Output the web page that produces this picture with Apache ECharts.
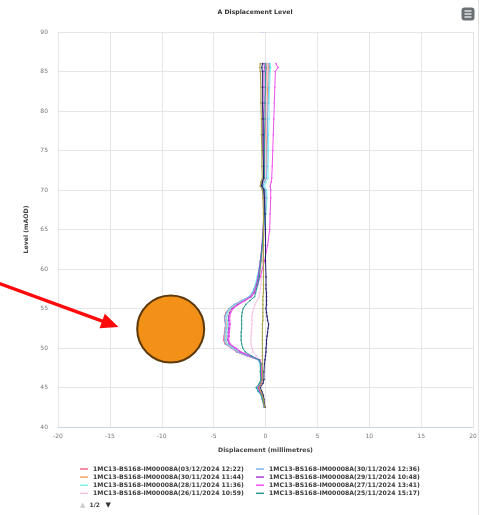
<!DOCTYPE html>
<html>
<head>
<meta charset="utf-8">
<script src="https://cdn.jsdelivr.net/npm/echarts@6/dist/echarts.min.js"></script>
<style>
  html, body { margin: 0; padding: 0; background: #ffffff; }
  #chart { width: 486px; height: 515px; }
</style>
</head>
<body>
<div id="chart"></div>
<script>
// Inclinometer profile: displacement (mm) against level (mAOD)
var levels = [86, 85.5, 85, 83, 81, 79, 77, 75, 73, 71.5, 71, 70.5, 70, 69, 67, 65, 63, 61, 59, 58,
  57.5, 57, 56.5, 56, 55.5, 55, 54.5, 54, 53.5, 53, 52.5, 52, 51.5, 51, 50.5, 50, 49.5, 49, 48.5, 48,
  47, 46, 45.5, 45, 44.5, 44, 43.5, 43, 42.5];

var seriesNames = [
  '1MC13-BS168-IM00008A(03/12/2024 12:22)',
  '1MC13-BS168-IM00008A(30/11/2024 11:44)',
  '1MC13-BS168-IM00008A(28/11/2024 11:36)',
  '1MC13-BS168-IM00008A(26/11/2024 10:59)',
  '1MC13-BS168-IM00008A(30/11/2024 12:36)',
  '1MC13-BS168-IM00008A(29/11/2024 10:48)',
  '1MC13-BS168-IM00008A(27/11/2024 13:41)',
  '1MC13-BS168-IM00008A(25/11/2024 15:17)',
  '1MC13-BS168-IM00008A(22/11/2024 14:05)',
  '1MC13-BS168-IM00008A(20/11/2024 11:30)'
];

var seriesColors = ['#f2678a', '#f7a35c', '#7ff2f2', '#f7c4e0', '#7cb5ec',
  '#a83fd6', '#f050f0', '#2b9a96', '#22226e', '#a8a040'];

var disp0312 = [0.1, 0.15, 0.1, 0.05, 0.05, 0.0, 0.0, -0.05, -0.05,
  -0.05, -0.25, -0.35, -0.1,
  0.0, -0.05, -0.15, -0.3, -0.45, -0.7, -0.9,
  -1.05, -1.2, -1.5, -2.3, -3.0, -3.5, -3.8, -3.95, -3.95, -3.85, -3.9, -3.95, -4.0, -4.05, -3.9, -3.3, -2.8, -1.8, -0.7, -0.5,
  -0.45, -0.4, -0.5, -0.75, -0.6, -0.35, -0.3, -0.2, -0.1];

var disp3011a = [0.25, 0.3, 0.25, 0.2, 0.15, 0.15, 0.1, 0.1, 0.05,
  0.05, -0.15, -0.3, -0.05,
  0.05, 0.0, -0.1, -0.25, -0.4, -0.6, -0.8,
  -0.95, -1.1, -1.4, -2.1, -2.8, -3.3, -3.6, -3.75, -3.75, -3.7, -3.75, -3.8, -3.8, -3.85, -3.7, -3.15, -2.6, -1.6, -0.65, -0.45,
  -0.4, -0.35, -0.45, -0.7, -0.55, -0.3, -0.25, -0.15, -0.1];

var disp2811 = [0.45, 0.5, 0.45, 0.4, 0.35, 0.35, 0.3, 0.3, 0.25,
  0.25, 0.05, -0.15, 0.1,
  0.15, 0.05, -0.1, -0.3, -0.5, -0.8, -1.0,
  -1.15, -1.3, -1.6, -2.2, -2.9, -3.4, -3.65, -3.75, -3.7, -3.65, -3.7, -3.75, -3.75, -3.8, -3.65, -3.1, -2.5, -1.5, -0.7, -0.55,
  -0.5, -0.45, -0.6, -0.85, -0.7, -0.4, -0.3, -0.2, -0.1];

var disp2611 = [0.15, 0.2, 0.15, 0.1, 0.1, 0.05, 0.05, 0.0, 0.0,
  0.0, -0.2, -0.3, -0.05,
  0.0, -0.05, -0.1, -0.2, -0.3, -0.4, -0.45,
  -0.5, -0.55, -0.6, -0.8, -1.0, -1.15, -1.25, -1.3, -1.3, -1.3, -1.35, -1.35, -1.4, -1.4, -1.4, -1.3, -1.2, -0.9, -0.5, -0.4,
  -0.35, -0.3, -0.4, -0.6, -0.5, -0.3, -0.25, -0.15, -0.1];

var disp3011b = [0.35, 0.4, 0.35, 0.3, 0.25, 0.2, 0.2, 0.15, 0.15,
  0.1, -0.1, -0.25, 0.0,
  0.05, 0.0, -0.15, -0.3, -0.5, -0.75, -0.95,
  -1.1, -1.25, -1.55, -2.3, -3.0, -3.5, -3.75, -3.9, -3.9, -3.85, -3.85, -3.9, -3.95, -3.95, -3.85, -3.25, -2.75, -1.75, -0.7, -0.5,
  -0.45, -0.4, -0.55, -0.8, -0.65, -0.35, -0.3, -0.2, -0.1];

var disp2911 = [-0.15, -0.1, -0.15, -0.15, -0.15, -0.2, -0.2, -0.2, -0.2,
  -0.2, -0.35, -0.4, -0.2,
  -0.15, -0.15, -0.25, -0.35, -0.5, -0.7, -0.85,
  -0.95, -1.1, -1.4, -2.0, -2.7, -3.2, -3.45, -3.55, -3.55, -3.5, -3.55, -3.6, -3.6, -3.65, -3.5, -2.95, -2.45, -1.5, -0.6, -0.45,
  -0.4, -0.35, -0.45, -0.7, -0.55, -0.3, -0.25, -0.15, -0.1];

var disp2711 = [1.0, 1.2, 0.95, 0.9, 0.85, 0.8, 0.75, 0.7, 0.65,
  0.6, 0.55, 0.45, 0.5,
  0.5, 0.45, 0.4, 0.2, -0.1, -0.5, -0.75,
  -0.9, -1.05, -1.35, -1.95, -2.6, -3.1, -3.35, -3.45, -3.45, -3.4, -3.45, -3.5, -3.5, -3.55, -3.4, -2.85, -2.35, -1.45, -0.55, -0.4,
  -0.35, -0.3, -0.4, -0.65, -0.5, -0.3, -0.2, -0.15, -0.1];

var disp2511 = [0.0, 0.05, 0.0, 0.0, -0.05, -0.05, -0.1, -0.1, -0.1,
  -0.1, -0.3, -0.35, -0.15,
  -0.1, -0.1, -0.2, -0.3, -0.45, -0.6, -0.75,
  -0.85, -0.95, -1.05, -1.5, -1.9, -2.15, -2.25, -2.3, -2.3, -2.3, -2.3, -2.35, -2.35, -2.35, -2.3, -2.2, -1.95, -1.35, -0.6, -0.45,
  -0.5, -0.45, -0.6, -0.9, -0.7, -0.4, -0.3, -0.2, -0.1];

var disp2211 = [-0.3, -0.35, -0.3, -0.3, -0.3, -0.25, -0.25, -0.25, -0.2,
  -0.2, -0.3, -0.35, -0.15,
  -0.1, -0.05, 0.0, 0.0, 0.0, 0.05, 0.05,
  0.05, 0.1, 0.1, 0.1, 0.1, 0.05, 0.1, 0.15, 0.2, 0.3, 0.25, 0.2, 0.15, 0.1, 0.1, 0.05, 0.05, 0.0, -0.05, -0.1,
  -0.15, -0.15, -0.25, -0.5, -0.35, -0.2, -0.15, -0.1, -0.05];

var disp2011 = [-0.5, -0.55, -0.5, -0.45, -0.45, -0.4, -0.4, -0.35, -0.35,
  -0.3, -0.45, -0.5, -0.3,
  -0.25, -0.2, -0.2, -0.2, -0.2, -0.2, -0.2,
  -0.2, -0.2, -0.25, -0.25, -0.25, -0.25, -0.25, -0.25, -0.25, -0.3, -0.3, -0.3, -0.3, -0.3, -0.3, -0.3, -0.3, -0.3, -0.3, -0.3,
  -0.3, -0.3, -0.4, -0.6, -0.45, -0.3, -0.2, -0.15, -0.1];

var seriesValues = [disp0312, disp3011a, disp2811, disp2611, disp3011b, disp2911, disp2711, disp2511, disp2211, disp2011];

var xTicks = { min: -20, max: 20, interval: 5 };
var yTicks = { min: 40, max: 90, interval: 5 };

var legendLeftCol = seriesNames.slice(0, 4);
var legendRightCol = seriesNames.slice(4, 8);

var FONT = 'DejaVu Sans';

var chart = echarts.init(document.getElementById('chart'), null, { renderer: 'canvas' });

var series = seriesNames.map(function (name, k) {
  return {
    name: name,
    type: 'line',
    data: levels.map(function (lv, i) { return [seriesValues[k][i], lv]; }),
    color: seriesColors[k],
    lineStyle: { width: 1 },
    symbol: 'circle',
    symbolSize: 1.6,
    showSymbol: true,
    animation: false,
    z: 2 + k
  };
});

function legendCol(data, left) {
  return {
    data: data,
    orient: 'vertical',
    left: left,
    top: 465,
    icon: 'rect',
    itemWidth: 8,
    itemHeight: 1.5,
    itemGap: 0.1,
    padding: 0,
    selectedMode: false,
    textStyle: { fontFamily: FONT, fontSize: 6.15, fontWeight: 'bold', color: '#3a3a3a', lineHeight: 8, padding: [0, 0, 0, 0] }
  };
}

var option = {
  backgroundColor: '#ffffff',
  animation: false,
  title: {
    text: 'A Displacement Level',
    left: 250,
    textAlign: 'center',
    top: 4,
    textStyle: { fontFamily: FONT, fontSize: 6.2, fontWeight: 'bold', color: '#333' }
  },
  grid: { left: 58, right: 13, top: 32, bottom: 88 },
  legend: [legendCol(legendLeftCol, 80), legendCol(legendRightCol, 256)],
  xAxis: {
    type: 'value',
    min: xTicks.min, max: xTicks.max, interval: xTicks.interval,
    name: 'Displacement (millimetres)',
    nameLocation: 'middle',
    nameGap: 20,
    nameTextStyle: { fontFamily: FONT, fontSize: 6.2, fontWeight: 'bold', color: '#444' },
    axisLine: { show: true, lineStyle: { color: '#ccd6eb', width: 1 } },
    axisTick: { show: false },
    axisLabel: { fontFamily: FONT, fontSize: 6, color: '#777', margin: 6 },
    splitLine: { show: true, lineStyle: { color: '#e6e6e6', width: 1 } }
  },
  yAxis: {
    type: 'value',
    min: yTicks.min, max: yTicks.max, interval: yTicks.interval,
    name: 'Level (mAOD)',
    nameLocation: 'middle',
    nameRotate: 90,
    nameGap: 17,
    nameTextStyle: { fontFamily: FONT, fontSize: 6.2, fontWeight: 'bold', color: '#444' },
    axisLine: { show: false },
    axisTick: { show: true, length: 5, lineStyle: { color: '#ccd6eb' } },
    axisLabel: { fontFamily: FONT, fontSize: 6, color: '#777', margin: 10 },
    splitLine: { show: true, lineStyle: { color: '#e6e6e6', width: 1 } }
  },
  series: series,
  graphic: [
    // container edge on the right
    { type: 'line', shape: { x1: 478.5, y1: 0, x2: 478.5, y2: 515 }, style: { stroke: '#e3e3e3', lineWidth: 1 }, silent: true },
    // export menu button
    { type: 'rect', shape: { x: 461.5, y: 7.5, width: 13, height: 13, r: 3 }, style: { fill: '#6b7075' }, silent: true },
    { type: 'line', shape: { x1: 464.5, y1: 11, x2: 471.5, y2: 11 }, style: { stroke: '#e8e8e8', lineWidth: 1.4 }, silent: true },
    { type: 'line', shape: { x1: 464.5, y1: 14, x2: 471.5, y2: 14 }, style: { stroke: '#e8e8e8', lineWidth: 1.4 }, silent: true },
    { type: 'line', shape: { x1: 464.5, y1: 17, x2: 471.5, y2: 17 }, style: { stroke: '#e8e8e8', lineWidth: 1.4 }, silent: true },
    // legend pager
    { type: 'text', left: 80, top: 501.5, style: { text: '▲', fill: '#cccccc', font: '7px DejaVu Sans' }, silent: true },
    { type: 'text', left: 89.5, top: 502.5, style: { text: '1/2', fill: '#444', font: 'bold 6px DejaVu Sans' }, silent: true },
    { type: 'text', left: 105.5, top: 501.5, style: { text: '▼', fill: '#333333', font: '7px DejaVu Sans' }, silent: true },
    // highlight marker and pointer arrow
    { type: 'circle', shape: { cx: 170.7, cy: 329, r: 33.5 }, style: { fill: '#f39018', stroke: '#5c3a0a', lineWidth: 2 }, z: 100, silent: true },
    { type: 'line', shape: { x1: -2, y1: 283, x2: 103, y2: 321.3 }, style: { stroke: '#ff0a0a', lineWidth: 3.4 }, z: 100, silent: true },
    { type: 'polygon', shape: { points: [[118.5, 327], [99.5, 328.2], [104.8, 313.8]] }, style: { fill: '#ff0a0a' }, z: 100, silent: true }
  ]
};

chart.setOption(option);
</script>
</body>
</html>
